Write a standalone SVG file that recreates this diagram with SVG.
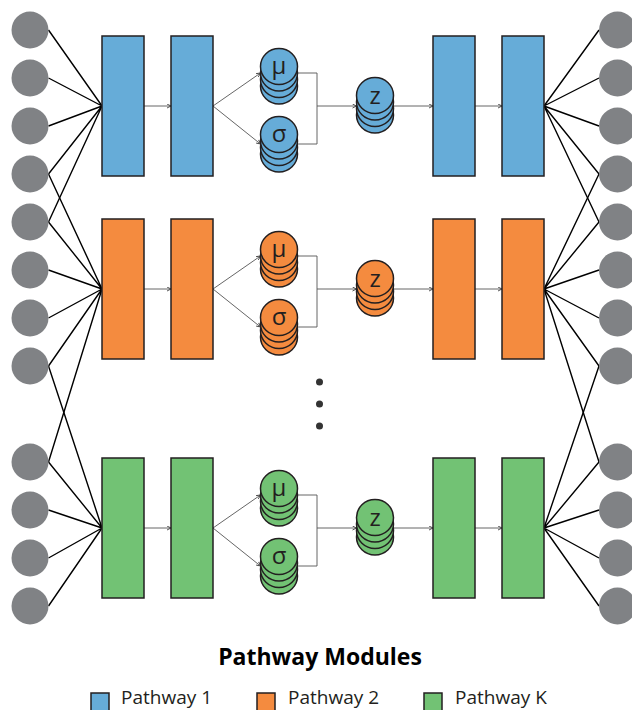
<svg xmlns="http://www.w3.org/2000/svg" width="632" height="710" viewBox="0 0 632 710">
<style>
.bg{fill:#ffffff}
.unit{fill:#808285}
.fan{stroke:#000;stroke-width:1.4;fill:none}
.thin{stroke:#555;stroke-width:0.9;fill:none}
.rect,.disk{stroke:#231f20;stroke-width:1.5}
.blue{fill:#66acd8}
.orange{fill:#f48b3f}
.green{fill:#72c274}
.sym{font-family:"Open Sans","Liberation Sans",sans-serif;font-size:24px;fill:#231f20;text-anchor:middle}
.title{font-family:"Open Sans","Liberation Sans",sans-serif;font-size:23px;font-weight:bold;fill:#000;text-anchor:middle}
.leg{font-family:"Open Sans","Liberation Sans",sans-serif;font-size:19px;fill:#231f20}
.dot{fill:#333}
</style>
<defs>
<marker id="arr" markerUnits="userSpaceOnUse" markerWidth="6" markerHeight="6" refX="4.5" refY="2.5" orient="auto">
<path d="M0.5,0.5 L4.5,2.5 L0.5,4.5" fill="none" stroke="#444" stroke-width="0.9"/>
</marker>
</defs>
<rect class="bg" x="0" y="0" width="632" height="710"/>

<g id="connectors">
<g class="fan">
<path d="M48.5,30 L102,106 M48.5,78 L102,106 M48.5,126 L102,106 M48.5,174 L102,106 M48.5,222 L102,106"/>
<path d="M48.5,174 L102,289 M48.5,222 L102,289 M48.5,270 L102,289 M48.5,318 L102,289 M48.5,366 L102,289 M48.5,462 L102,289"/>
<path d="M48.5,366 L102,528 M48.5,462 L102,528 M48.5,510 L102,528 M48.5,558 L102,528 M48.5,606 L102,528"/>
<path d="M599,30 L544,106 M599,78 L544,106 M599,126 L544,106 M599,174 L544,106 M599,222 L544,106"/>
<path d="M599,174 L544,289 M599,222 L544,289 M599,270 L544,289 M599,318 L544,289 M599,366 L544,289 M599,462 L544,289"/>
<path d="M599,366 L544,528 M599,462 L544,528 M599,510 L544,528 M599,558 L544,528 M599,606 L544,528"/>
</g>
<g class="thin">
<line x1="144" y1="106" x2="171" y2="106" marker-end="url(#arr)"/>
<line x1="213" y1="106" x2="260.5" y2="73" marker-end="url(#arr)"/>
<line x1="213" y1="106" x2="260.5" y2="144" marker-end="url(#arr)"/>
<polyline points="297.5,73 317,73 317,144 297.5,144"/>
<line x1="317" y1="106" x2="356.5" y2="106" marker-end="url(#arr)"/>
<line x1="393.5" y1="106" x2="433" y2="106" marker-end="url(#arr)"/>
<line x1="475" y1="106" x2="502" y2="106" marker-end="url(#arr)"/>
</g>
<g class="thin">
<line x1="144" y1="289" x2="171" y2="289" marker-end="url(#arr)"/>
<line x1="213" y1="289" x2="260.5" y2="256" marker-end="url(#arr)"/>
<line x1="213" y1="289" x2="260.5" y2="327" marker-end="url(#arr)"/>
<polyline points="297.5,256 317,256 317,327 297.5,327"/>
<line x1="317" y1="289" x2="356.5" y2="289" marker-end="url(#arr)"/>
<line x1="393.5" y1="289" x2="433" y2="289" marker-end="url(#arr)"/>
<line x1="475" y1="289" x2="502" y2="289" marker-end="url(#arr)"/>
</g>
<g class="thin">
<line x1="144" y1="528" x2="171" y2="528" marker-end="url(#arr)"/>
<line x1="213" y1="528" x2="260.5" y2="495" marker-end="url(#arr)"/>
<line x1="213" y1="528" x2="260.5" y2="566" marker-end="url(#arr)"/>
<polyline points="297.5,495 317,495 317,566 297.5,566"/>
<line x1="317" y1="528" x2="356.5" y2="528" marker-end="url(#arr)"/>
<line x1="393.5" y1="528" x2="433" y2="528" marker-end="url(#arr)"/>
<line x1="475" y1="528" x2="502" y2="528" marker-end="url(#arr)"/>
</g>
</g>

<g id="inputs" class="unit">
<circle cx="30" cy="30" r="18.5"/><circle cx="30" cy="78" r="18.5"/><circle cx="30" cy="126" r="18.5"/><circle cx="30" cy="174" r="18.5"/>
<circle cx="30" cy="222" r="18.5"/><circle cx="30" cy="270" r="18.5"/><circle cx="30" cy="318" r="18.5"/><circle cx="30" cy="366" r="18.5"/>
<circle cx="30" cy="462" r="18.5"/><circle cx="30" cy="510" r="18.5"/><circle cx="30" cy="558" r="18.5"/><circle cx="30" cy="606" r="18.5"/>
</g>
<g id="outputs" class="unit">
<circle cx="617.5" cy="30" r="18.5"/><circle cx="617.5" cy="78" r="18.5"/><circle cx="617.5" cy="126" r="18.5"/><circle cx="617.5" cy="174" r="18.5"/>
<circle cx="617.5" cy="222" r="18.5"/><circle cx="617.5" cy="270" r="18.5"/><circle cx="617.5" cy="318" r="18.5"/><circle cx="617.5" cy="366" r="18.5"/>
<circle cx="617.5" cy="462" r="18.5"/><circle cx="617.5" cy="510" r="18.5"/><circle cx="617.5" cy="558" r="18.5"/><circle cx="617.5" cy="606" r="18.5"/>
</g>

<g id="p1-enc1"><rect class="rect blue" x="102" y="36" width="42" height="140"/></g>
<g id="p1-enc2"><rect class="rect blue" x="171" y="36" width="42" height="140"/></g>
<g id="p1-mu" class="disk blue">
<ellipse cx="279" cy="86" rx="18.5" ry="18"/><ellipse cx="279" cy="79.5" rx="18.5" ry="18"/><ellipse cx="279" cy="73" rx="18.5" ry="18"/><ellipse cx="279" cy="66.5" rx="18.5" ry="18"/>
<text class="sym" x="279" y="73.5" stroke="none">μ</text>
</g>
<g id="p1-sigma" class="disk blue">
<ellipse cx="279" cy="154" rx="18.5" ry="18"/><ellipse cx="279" cy="147.5" rx="18.5" ry="18"/><ellipse cx="279" cy="141" rx="18.5" ry="18"/><ellipse cx="279" cy="134.5" rx="18.5" ry="18"/>
<text class="sym" x="279" y="142" stroke="none">σ</text>
</g>
<g id="p1-z" class="disk blue">
<ellipse cx="375" cy="115" rx="18.5" ry="18"/><ellipse cx="375" cy="108.5" rx="18.5" ry="18"/><ellipse cx="375" cy="102" rx="18.5" ry="18"/><ellipse cx="375" cy="95.5" rx="18.5" ry="18"/>
<text class="sym" x="375" y="103.5" stroke="none">z</text>
</g>
<g id="p1-dec1"><rect class="rect blue" x="433" y="36" width="42" height="140"/></g>
<g id="p1-dec2"><rect class="rect blue" x="502" y="36" width="42" height="140"/></g>

<g id="p2-enc1"><rect class="rect orange" x="102" y="219" width="42" height="140"/></g>
<g id="p2-enc2"><rect class="rect orange" x="171" y="219" width="42" height="140"/></g>
<g id="p2-mu" class="disk orange">
<ellipse cx="279" cy="269" rx="18.5" ry="18"/><ellipse cx="279" cy="262.5" rx="18.5" ry="18"/><ellipse cx="279" cy="256" rx="18.5" ry="18"/><ellipse cx="279" cy="249.5" rx="18.5" ry="18"/>
<text class="sym" x="279" y="256.5" stroke="none">μ</text>
</g>
<g id="p2-sigma" class="disk orange">
<ellipse cx="279" cy="337" rx="18.5" ry="18"/><ellipse cx="279" cy="330.5" rx="18.5" ry="18"/><ellipse cx="279" cy="324" rx="18.5" ry="18"/><ellipse cx="279" cy="317.5" rx="18.5" ry="18"/>
<text class="sym" x="279" y="325" stroke="none">σ</text>
</g>
<g id="p2-z" class="disk orange">
<ellipse cx="375" cy="298" rx="18.5" ry="18"/><ellipse cx="375" cy="291.5" rx="18.5" ry="18"/><ellipse cx="375" cy="285" rx="18.5" ry="18"/><ellipse cx="375" cy="278.5" rx="18.5" ry="18"/>
<text class="sym" x="375" y="286.5" stroke="none">z</text>
</g>
<g id="p2-dec1"><rect class="rect orange" x="433" y="219" width="42" height="140"/></g>
<g id="p2-dec2"><rect class="rect orange" x="502" y="219" width="42" height="140"/></g>

<g id="ellipsis" class="dot">
<circle cx="319.5" cy="382" r="3.5"/><circle cx="319.5" cy="404" r="3.5"/><circle cx="319.5" cy="426" r="3.5"/>
</g>

<g id="pk-enc1"><rect class="rect green" x="102" y="458" width="42" height="140"/></g>
<g id="pk-enc2"><rect class="rect green" x="171" y="458" width="42" height="140"/></g>
<g id="pk-mu" class="disk green">
<ellipse cx="279" cy="508" rx="18.5" ry="18"/><ellipse cx="279" cy="501.5" rx="18.5" ry="18"/><ellipse cx="279" cy="495" rx="18.5" ry="18"/><ellipse cx="279" cy="488.5" rx="18.5" ry="18"/>
<text class="sym" x="279" y="495.5" stroke="none">μ</text>
</g>
<g id="pk-sigma" class="disk green">
<ellipse cx="279" cy="576" rx="18.5" ry="18"/><ellipse cx="279" cy="569.5" rx="18.5" ry="18"/><ellipse cx="279" cy="563" rx="18.5" ry="18"/><ellipse cx="279" cy="556.5" rx="18.5" ry="18"/>
<text class="sym" x="279" y="564" stroke="none">σ</text>
</g>
<g id="pk-z" class="disk green">
<ellipse cx="375" cy="537" rx="18.5" ry="18"/><ellipse cx="375" cy="530.5" rx="18.5" ry="18"/><ellipse cx="375" cy="524" rx="18.5" ry="18"/><ellipse cx="375" cy="517.5" rx="18.5" ry="18"/>
<text class="sym" x="375" y="525.5" stroke="none">z</text>
</g>
<g id="pk-dec1"><rect class="rect green" x="433" y="458" width="42" height="140"/></g>
<g id="pk-dec2"><rect class="rect green" x="502" y="458" width="42" height="140"/></g>

<g id="legend">
<text class="title" x="320" y="665">Pathway Modules</text>
<rect class="rect blue" x="91" y="693" width="18" height="18"/>
<text class="leg" x="121" y="704">Pathway 1</text>
<rect class="rect orange" x="257" y="693" width="18" height="18"/>
<text class="leg" x="288" y="704">Pathway 2</text>
<rect class="rect green" x="424" y="693" width="18" height="18"/>
<text class="leg" x="455" y="704">Pathway K</text>
</g>
</svg>
